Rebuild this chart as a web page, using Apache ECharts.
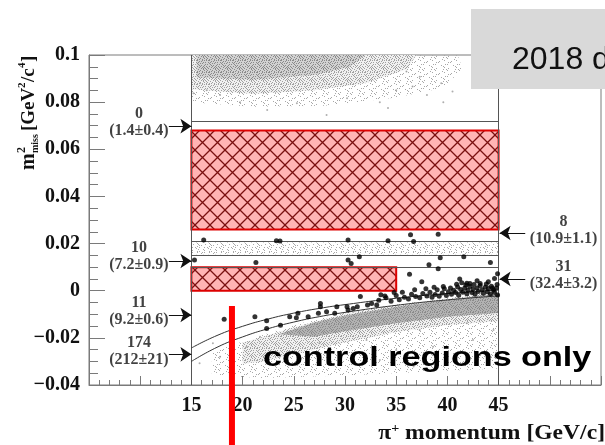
<!DOCTYPE html>
<html><head><meta charset="utf-8">
<script src="https://cdn.jsdelivr.net/npm/echarts@6/dist/echarts.min.js"></script>
<style>html,body{margin:0;padding:0;background:#fff}#c{width:605px;height:445px}</style>
</head><body><div id="c"></div>
<script>
// ---------------- data ----------------
const xTickLabels = [15, 20, 25, 30, 35, 40, 45];
const signalBoxes = [[15, 0.026, 45, 0.068], [15, 0.0, 35, 0.010]];
const regionLinesH = [[15, 45, 0.072], [15, 45, 0.021], [15, 45, 0.015], [15, 45, 0.010]];
const regionLinesV = [[15, -0.04, 0.1], [45, -0.04, 0.1]];
const curveUpper = [[15,-0.0243],[17.5,-0.0190],[20,-0.0151],[22.5,-0.0120],[25,-0.0095],[27.5,-0.0075],[30,-0.0059],[35,-0.0032],[40,-0.0012],[45,0.0003]];
const curveLower = [[15,-0.0300],[17.5,-0.0240],[20,-0.0196],[22.5,-0.0161],[25,-0.0133],[27.5,-0.0110],[30,-0.0092],[35,-0.0062],[40,-0.0039],[45,-0.0022]];
const regionCounts = ['0', '10', '11', '174', '8', '31'];
const regionExpected = ['(1.4±0.4)', '(7.2±0.9)', '(9.2±0.6)', '(212±21)', '(10.9±1.1)', '(32.4±3.2)'];
const regionLabelPos = [[9.88,0.0714],[9.88,0.0147],[9.88,-0.0086],[9.88,-0.0256],[51.34,0.0255],[51.34,0.0065]];
const arrowFromTo = [[12.8,15,0.0698],[12.8,15,0.0126],[12.8,15,-0.0103],[12.8,15,-0.027],[47.6,45.1,0.0245],[47.6,45.1,0.005]];
const redMarker = [[18.96,-0.0065],[18.96,-0.0655]];
const topCloudOuter = [[15,0.1],[41,0.1],[41.5,0.094],[39.5,0.086],[35,0.082],[28,0.0785],[21,0.078],[15,0.080]];
const topCloudMid = [[15,0.1],[37,0.1],[36,0.094],[32,0.088],[27,0.085],[21,0.0835],[15,0.0855]];
const topCloudCore = [[15.5,0.1],[32,0.1],[30.5,0.095],[27,0.0915],[21,0.0895],[15.5,0.0905]];
const pipi0Band = [[15,0.0205],[45,0.0205],[45,0.0155],[15,0.0155]];
const bottomOuter = [[17,-0.026],[20,-0.0215],[25,-0.0145],[30,-0.0092],[35,-0.0058],[40,-0.003],[45,-0.0003],[45,-0.033],[40,-0.034],[30,-0.036],[22,-0.037],[17,-0.036]];
const bottomMid = [[20,-0.022],[22,-0.0195],[25,-0.0155],[30,-0.0098],[35,-0.0062],[40,-0.0033],[45,-0.0008],[45,-0.013],[40,-0.0145],[35,-0.0175],[30,-0.022],[25,-0.027],[22,-0.030],[20,-0.031]];
const bottomCore = [[23.5,-0.0185],[27,-0.0135],[30,-0.0105],[35,-0.0068],[40,-0.0038],[45,-0.0012],[45,-0.0095],[40,-0.011],[35,-0.0138],[30,-0.0172],[27,-0.0195]];
const greyPoints = [[15.84,0.088],[17.8,0.083],[19.75,0.080],[22.4,0.0767],[28.2,0.0745],[33.4,0.080],[35.0,0.085],[36.6,0.0866],[38.0,0.083],[39.6,0.080],[39.4,0.088],[37.3,0.0908],[36.0,0.093],[30.2,0.0816],[25.3,0.0795],[16.5,0.085],[15.2,0.0838],[40.5,0.0845],[34.2,0.0775],
 [17.8,-0.028],[20.4,-0.0238],[19.1,-0.0322],[22.35,-0.0308],[23.6,-0.028],[26.3,-0.0294],[28.5,-0.0308],[30.8,-0.0266],[33.4,-0.0294],[35.0,-0.0252],[36.7,-0.0322],[38.6,-0.0238],[40.6,-0.0294],[42.5,-0.0209],[44.2,-0.028],[44.5,-0.0167],[41.9,-0.0138],[37.3,-0.0167],[32.1,-0.0209],[27.5,-0.0223],[21.7,-0.0195],[17.1,-0.0223],[15.8,-0.0308]];
const blackPoints = [[16.2,0.0215],[23.3,0.0212],[23.65,0.0211],[30.3,0.0215],[34.2,0.0212],[36.4,0.0237],[36.7,0.0209],[39.1,0.024],
 [15.3,0.013],[21.3,0.012],[30.3,0.013],[30.6,0.0115],[31.4,0.0144],[38.2,0.011],[39.3,0.014],[41.6,0.0144],[44.2,0.012],[39.1,0.0093],
 [36.3,0.007],[37.5,0.0038],[41.2,0.005],[41.4,0.0034],[41.9,0.0032],[42.2,0.0031],[42.9,0.0042],[43.2,0.0031],[44.0,0.0038],[44.6,0.0052],[44.9,0.0072],
 [18.2,-0.0121],[21.2,-0.011],[22.35,-0.0127],[22.35,-0.016],[23.7,-0.0146],[24.6,-0.011],[25.4,-0.0096],[25.25,-0.0115],[26.4,-0.011],[27.6,-0.0054],[27.6,-0.0068],[27.4,-0.0096],[28.2,-0.0089],[29.0,-0.0096],[29.2,-0.0068],[30.2,-0.0068],[30.3,-0.0082],[30.8,-0.0075],[31.2,-0.0068],[31.5,-0.0025],[32.2,-0.0061],[32.6,-0.0054],[33.1,-0.0061],[33.5,-0.0017],[33.3,-0.004],
 [34,-0.003],[34.5,-0.0045],[35,-0.002],[35.3,-0.0038],[35.8,-0.0028],[36.2,-0.0035],[36.5,-0.0015],[36.9,-0.0025],[37.3,-0.003],[37.6,-0.0012],[38.0,-0.0022],[38.3,-0.0006],[38.5,-0.0028],[38.8,-0.0016],[39.0,0.0004],[39.2,-0.0024],[39.5,-0.001],[39.7,0.0008],[39.9,-0.002],[40.1,-0.0004],[40.3,0.0012],[40.4,-0.0015],[40.6,0.0002],[40.8,-0.0008],[41.0,0.0016],[41.1,-0.0019],[41.3,0.0005],[41.5,-0.0006],[41.7,0.0011],[41.9,-0.0013],[42.0,0.0002],[42.2,0.0018],[42.4,-0.0008],[42.5,0.0007],[42.7,-0.0015],[42.9,0.0012],[43.0,-0.0003],[43.2,0.0022],[43.4,0.0004],[43.5,-0.0011],[43.7,0.0015],[43.9,-0.0004],[44.0,0.0009],[44.2,-0.0014],[44.3,0.0019],[44.5,0.0003],[44.6,-0.0007],[44.8,0.0012],[44.9,-0.0018],[44.85,0.0026],[44.4,0.0011],[43.8,0.0028],[42.6,0.0026],[41.8,0.0024],[40.9,0.0027],[39.6,0.0018],[38.7,0.0015],[37.9,0.0008],[36.8,0.0004],[35.6,-0.0006],[34.8,-0.0008],[33.9,-0.0022]];

// ---------------- styles ----------------
const SERIF = '"Liberation Serif", "Times New Roman", serif';
const SANS = '"Liberation Sans", Arial, sans-serif';
const speckDots = [[0,0],[2,0],[5,0],[7,1],[10,0],[1,2],[4,2],[8,3],[11,2],[3,4],[6,4],[0,5],[9,5],[2,6],[5,6],[11,6],[7,7],[1,8],[4,8],[9,8],[0,10],[3,10],[6,9],[8,10],[11,9],[2,11],[5,11],[10,11],[7,5],[10,3],[1,4],[4,0],[9,1],[6,2],[3,7],[8,6],[0,7],[11,8],[5,3],[2,9],[7,11],[10,7]];
function speckle(n, pts, col, bg) {
  const c = document.createElement('canvas'); c.width = n; c.height = n;
  const g = c.getContext('2d');
  if (bg) { g.fillStyle = bg; g.fillRect(0, 0, n, n); }
  g.fillStyle = col;
  pts.forEach(p => g.fillRect(p[0], p[1], 1, 1));
  return { image: c, repeat: 'repeat' };
}
function hatch() {
  const n = 15, c = document.createElement('canvas'); c.width = n; c.height = n;
  const g = c.getContext('2d');
  g.fillStyle = '#ffb4b4'; g.fillRect(0, 0, n, n);
  g.strokeStyle = '#7a1010'; g.lineWidth = 1.3;
  g.beginPath(); g.moveTo(0, 0); g.lineTo(n, n); g.moveTo(n, 0); g.lineTo(0, n); g.stroke();
  return { image: c, repeat: 'repeat' };
}
const texTopCore = speckle(12, speckDots, '#8a8a8a', '#d2d2d2');
const texBotCore = speckle(12, speckDots, '#8a8a8a', '#b2b2b2');
const texMid = speckle(12, speckDots, '#a0a0a0', '#f0f0f0');
const texSparse = speckle(12, speckDots.filter((d, i) => i % 3 === 0), '#a8a8a8');
const texBand = speckle(12, speckDots.filter((d, i) => i % 2 === 0), '#a8a8a8');
const texHatch = hatch();

function polySeries(poly, fill) {
  return {
    type: 'custom', silent: true, z: 1, data: [0],
    renderItem: (params, api) => ({
      type: 'polygon',
      shape: { points: poly.map(p => api.coord(p)) },
      style: { fill: fill }
    })
  };
}

const chart = echarts.init(document.getElementById('c'));
chart.setOption({
  animation: false,
  backgroundColor: '#fff',
  grid: { left: 89, top: 55, right: 4, bottom: 60, show: true, borderColor: '#7a7a7a', borderWidth: 1 },
  xAxis: {
    type: 'value', min: 5, max: 55, interval: 5,
    axisLine: { show: true, onZero: false, lineStyle: { color: '#7a7a7a' } },
    axisTick: { inside: true, length: 9, lineStyle: { color: '#7a7a7a' } },
    minorTick: { show: true, splitNumber: 5, length: 5, lineStyle: { color: '#7a7a7a' } },
    splitLine: { show: false },
    axisLabel: {
      formatter: v => xTickLabels.indexOf(Math.round(v)) >= 0 ? String(Math.round(v)) : '',
      fontFamily: SERIF, fontWeight: 'bold', fontSize: 20, color: '#111', margin: 11
    }
  },
  yAxis: {
    type: 'value', min: -0.04, max: 0.1, interval: 0.02,
    axisLine: { show: true, onZero: false, lineStyle: { color: '#7a7a7a' } },
    axisTick: { inside: true, length: 16, lineStyle: { color: '#7a7a7a' } },
    minorTick: { show: true, splitNumber: 4, length: 9, lineStyle: { color: '#7a7a7a' } },
    splitLine: { show: false },
    axisLabel: {
      formatter: v => (Math.abs(v) < 1e-9 ? '0' : String(+v.toFixed(2))).replace('-', '\u2212'),
      fontFamily: SERIF, fontWeight: 'bold', fontSize: 20, color: '#111', margin: 9
    }
  },
  series: [
    polySeries(topCloudOuter, texSparse),
    polySeries(topCloudMid, texMid),
    polySeries(topCloudCore, texTopCore),
    polySeries(pipi0Band, texBand),
    polySeries(bottomOuter, texSparse),
    polySeries(bottomMid, texMid),
    polySeries(bottomCore, texBotCore),
    {
      type: 'scatter', silent: true, z: 2, symbolSize: 2,
      itemStyle: { color: '#9a9a9a' }, data: greyPoints
    },
    {
      type: 'custom', silent: true, z: 3, data: signalBoxes,
      renderItem: (params, api) => {
        const a = api.coord([api.value(0), api.value(3)]);
        const b = api.coord([api.value(2), api.value(1)]);
        return { type: 'rect', shape: { x: a[0], y: a[1], width: b[0] - a[0], height: b[1] - a[1] },
          style: { fill: texHatch, stroke: '#dd0000', lineWidth: 2 } };
      }
    },
    {
      type: 'lines', coordinateSystem: 'cartesian2d', silent: true, z: 4,
      lineStyle: { color: '#555', width: 1, opacity: 1 },
      data: regionLinesH.map(l => ({ coords: [[l[0], l[2]], [l[1], l[2]]] }))
        .concat(regionLinesV.map(l => ({ coords: [[l[0], l[1]], [l[0], l[2]]] })))
    },
    {
      type: 'line', silent: true, z: 4, smooth: true, showSymbol: false, symbol: 'none',
      lineStyle: { color: '#333', width: 1 }, data: curveUpper
    },
    {
      type: 'line', silent: true, z: 4, smooth: true, showSymbol: false, symbol: 'none',
      lineStyle: { color: '#333', width: 1 }, data: curveLower
    },
    {
      type: 'scatter', silent: true, z: 5, symbolSize: 5,
      itemStyle: { color: '#000' }, data: blackPoints
    },
    {
      type: 'lines', coordinateSystem: 'cartesian2d', silent: true, z: 6,
      symbol: ['none', 'arrow'], symbolSize: 11,
      lineStyle: { color: '#111', width: 1, opacity: 1 },
      data: arrowFromTo.map(a => ({ coords: [[a[0], a[2]], [a[1], a[2]]] }))
    },
    {
      type: 'scatter', silent: true, z: 7, symbolSize: 0,
      itemStyle: { color: 'rgba(0,0,0,0)' },
      data: regionLabelPos,
      label: {
        show: true, position: 'inside',
        formatter: p => regionCounts[p.dataIndex] + '\n' + regionExpected[p.dataIndex],
        fontFamily: SERIF, fontWeight: 'bold', fontSize: 16, lineHeight: 17, color: '#111', align: 'center'
      }
    },
    {
      type: 'line', silent: true, z: 20, clip: false, showSymbol: false, symbol: 'none',
      lineStyle: { color: '#ff0000', width: 6, cap: 'butt' }, data: redMarker
    }
  ],
  graphic: [
    {
      type: 'group', x: 29, y: 170, rotation: Math.PI / 2, z: 10,
      children: [
        { type: 'text', x: 0, y: 0, style: { text: 'm', font: 'bold 20px ' + SERIF, fill: '#111', verticalAlign: 'middle' } },
        { type: 'text', x: 17, y: -7, style: { text: '2', font: 'bold 12px ' + SERIF, fill: '#111', verticalAlign: 'middle' } },
        { type: 'text', x: 17, y: 6, style: { text: 'miss', font: 'bold 10px ' + SERIF, fill: '#111', verticalAlign: 'middle' } },
        { type: 'text', x: 39, y: 0, style: { text: '[GeV', font: 'bold 19px ' + SERIF, fill: '#111', verticalAlign: 'middle' } },
        { type: 'text', x: 82, y: -7, style: { text: '2', font: 'bold 11px ' + SERIF, fill: '#111', verticalAlign: 'middle' } },
        { type: 'text', x: 88, y: 0, style: { text: '/c', font: 'bold 19px ' + SERIF, fill: '#111', verticalAlign: 'middle' } },
        { type: 'text', x: 102, y: -7, style: { text: '4', font: 'bold 11px ' + SERIF, fill: '#111', verticalAlign: 'middle' } },
        { type: 'text', x: 108, y: 0, style: { text: ']', font: 'bold 19px ' + SERIF, fill: '#111', verticalAlign: 'middle' } }
      ]
    },
    {
      type: 'text', x: 605, y: 434, scaleX: 1.18, z: 10,
      style: {
        text: '{a|\u03c0}{s|+}{a| momentum [GeV/c]}', x: 0, y: 0, align: 'right', verticalAlign: 'middle',
        rich: {
          a: { fontFamily: SERIF, fontWeight: 'bold', fontSize: 20, fill: '#111', lineHeight: 22 },
          s: { fontFamily: SERIF, fontWeight: 'bold', fontSize: 12, fill: '#111', verticalAlign: 'top', lineHeight: 22 }
        }
      }
    },
    {
      type: 'text', x: 263, y: 358, scaleX: 1.22, z: 30,
      style: { text: 'control regions only', x: 0, y: 0, font: 'bold 28px ' + SANS, fill: '#000', verticalAlign: 'middle' }
    },
    {
      type: 'rect', x: 471, y: 9, z: 30, shape: { x: 0, y: 0, width: 140, height: 80 }, style: { fill: '#d9d9d9' }
    },
    {
      type: 'text', x: 512, y: 60, z: 31,
      style: { text: '2018 data', font: '32px ' + SANS, fill: '#111', verticalAlign: 'middle' }
    }
  ]
});
</script></body></html>
